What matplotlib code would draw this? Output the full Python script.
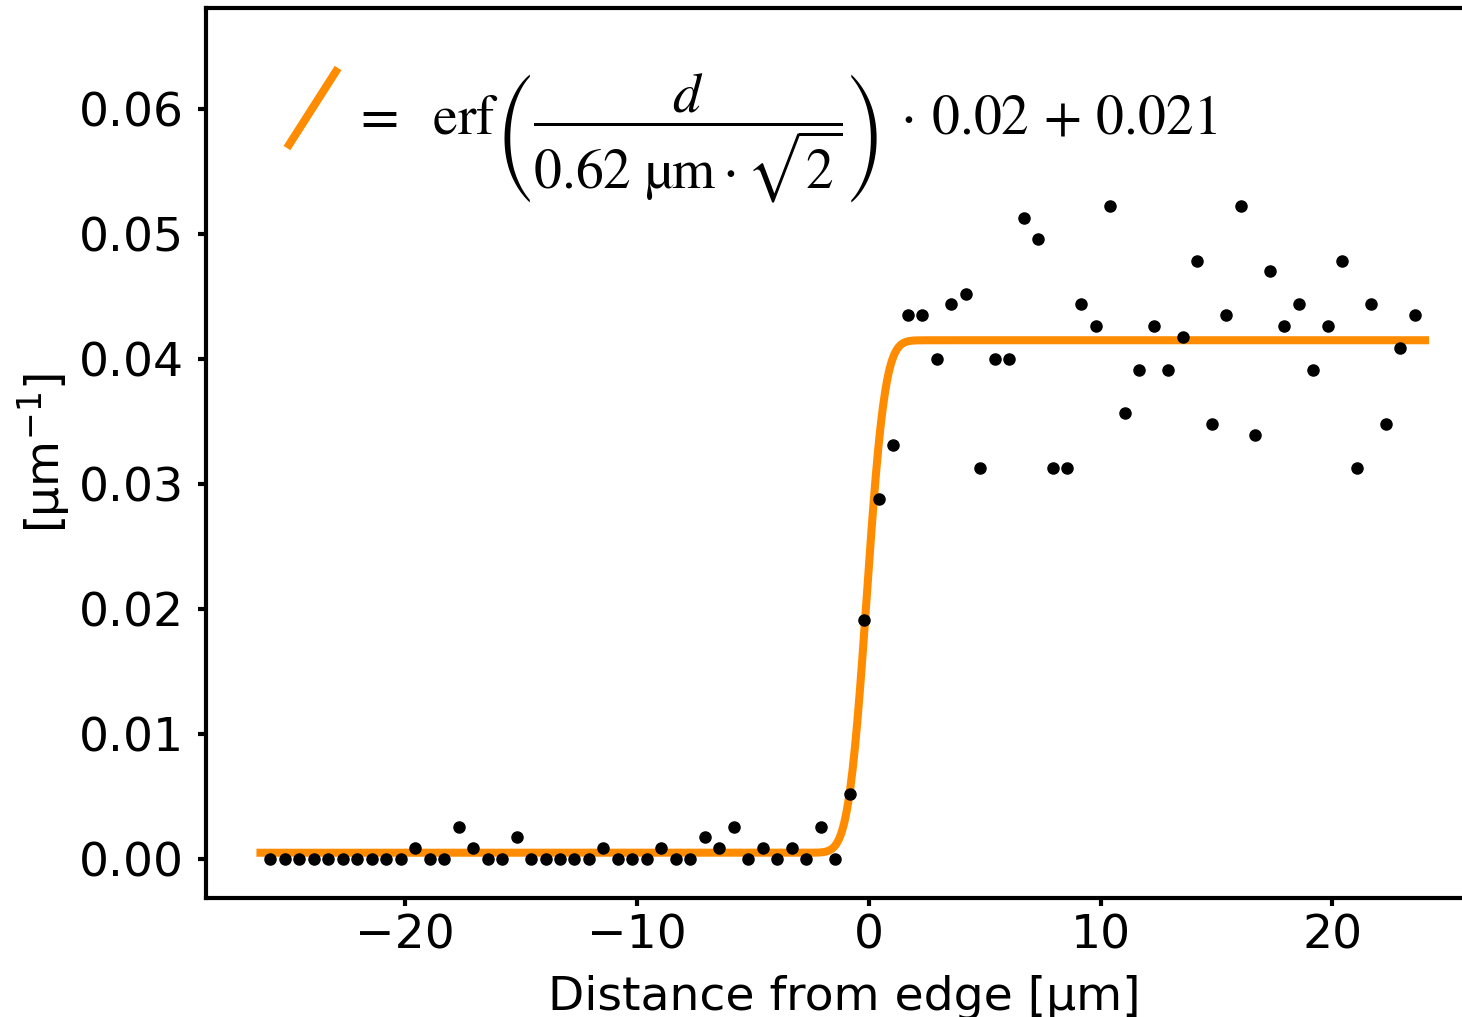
import math
import numpy as np
import matplotlib
matplotlib.use("Agg")
import matplotlib.pyplot as plt
from matplotlib.lines import Line2D
from matplotlib.legend_handler import HandlerBase
from matplotlib.font_manager import FontProperties

# ---- data -------------------------------------------------------------
distance_um = [
    -25.825, -25.2, -24.575, -23.95, -23.325, -22.7, -22.075, -21.45, -20.825, -20.2,
    -19.575, -18.95, -18.325, -17.7, -17.075, -16.45, -15.825, -15.2, -14.575, -13.95,
    -13.325, -12.7, -12.075, -11.45, -10.825, -10.2, -9.575, -8.95, -8.325, -7.7,
    -7.075, -6.45, -5.825, -5.2, -4.575, -3.95, -3.325, -2.7, -2.075, -1.45,
    -0.825, -0.2, 0.425, 1.05, 1.675, 2.3, 2.925, 3.55, 4.175, 4.8,
    5.425, 6.05, 6.675, 7.3, 7.925, 8.55, 9.175, 9.8, 10.425, 11.05,
    11.675, 12.3, 12.925, 13.55, 14.175, 14.8, 15.425, 16.05, 16.675, 17.3,
    17.925, 18.55, 19.175, 19.8, 20.425, 21.05, 21.675, 22.3, 22.925, 23.55,
]
density = [
    0.0, 0.0, 0.0, 0.0, 0.0, 0.0, 0.0, 0.0, 0.0, 0.0,
    0.00087, 0.0, 0.0, 0.0026, 0.00087, 0.0, 0.0, 0.00174, 0.0, 0.0,
    0.0, 0.0, 0.0, 0.00087, 0.0, 0.0, 0.0, 0.00087, 0.0, 0.0,
    0.00174, 0.00087, 0.0026, 0.0, 0.00087, 0.0, 0.00087, 0.0, 0.0026, 0.0,
    0.0052, 0.0191, 0.0288, 0.0331, 0.0435, 0.0435, 0.0400, 0.0444, 0.0452, 0.0313,
    0.0400, 0.0400, 0.0513, 0.0496, 0.0313, 0.0313, 0.0444, 0.0426, 0.0522, 0.0357,
    0.0391, 0.0426, 0.0391, 0.0418, 0.0478, 0.0348, 0.0435, 0.0522, 0.0339, 0.0470,
    0.0426, 0.0444, 0.0391, 0.0426, 0.0478, 0.0313, 0.0444, 0.0348, 0.0409, 0.0435,
]

# fit parameters (erf model shown in the legend)
fit_sigma = 0.62
fit_amplitude = 0.0205
fit_offset = 0.021
fit_center = -0.09
fit_range = (-26.25, 24.0)

fit_label = (r"$=\ \ \mathrm{erf}\left(\dfrac{d}{0.62\ \mathrm{µm}\cdot\sqrt{2}}\right)"
             r"\,\cdot\,0.02\,+\,0.021$")

ORANGE = "#ff8c00"


class DiagonalHandler(HandlerBase):
    """Legend handle drawn as a rising diagonal stroke (sizes in points)."""
    def __init__(self, drop=10.0, rise=57.6, **kw):
        super().__init__(**kw)
        self.drop = drop
        self.rise = rise

    def create_artists(self, legend, orig_handle, xdescent, ydescent,
                       width, height, fontsize, trans):
        y0 = -self.drop
        line = Line2D([-xdescent, -xdescent + width],
                      [y0, y0 + self.rise],
                      color=orig_handle.get_color(),
                      lw=orig_handle.get_linewidth(),
                      solid_capstyle="butt",
                      transform=trans)
        return [line]


fig = plt.figure(figsize=(14.62, 10.17), dpi=100)
ax = fig.add_axes([206 / 1462, 119 / 1017, 1277 / 1462, 890 / 1017])

erf = np.vectorize(math.erf)
xf = np.linspace(fit_range[0], fit_range[1], 1000)
yf = erf((xf - fit_center) / (fit_sigma * np.sqrt(2))) * fit_amplitude + fit_offset
fit_line, = ax.plot(xf, yf, color=ORANGE, lw=5.8, zorder=2)
ax.plot(distance_um, density, "o", color="black", ms=8, zorder=3)

ax.set_xlim(-28.6, 26.5)
ax.set_ylim(-0.00312, 0.06808)
ax.set_xticks([-20, -10, 0, 10, 20])
ax.set_yticks([0.0, 0.01, 0.02, 0.03, 0.04, 0.05, 0.06])
ax.set_yticklabels(["0.00", "0.01", "0.02", "0.03", "0.04", "0.05", "0.06"])

for sp in ax.spines.values():
    sp.set_linewidth(3)
ax.tick_params(axis="both", labelsize=34, length=6, width=3)
ax.tick_params(axis="y", pad=10)
ax.tick_params(axis="x", pad=5)

ax.set_xlabel("Distance from edge [µm]", fontsize=34, labelpad=12)
ax.set_ylabel("[µm$^{-1}$]", fontsize=34, labelpad=4)

leg = ax.legend([fit_line], [fit_label], loc="upper left",
                bbox_to_anchor=(0.0634, 0.929), bbox_transform=ax.transAxes,
                frameon=False, borderpad=0, borderaxespad=0,
                handlelength=0.92, handleheight=1.3, handletextpad=0.25,
                handler_map={Line2D: DiagonalHandler()},
                prop=FontProperties(size=40, math_fontfamily="stix"))

fig.savefig("out.png", dpi=100)
